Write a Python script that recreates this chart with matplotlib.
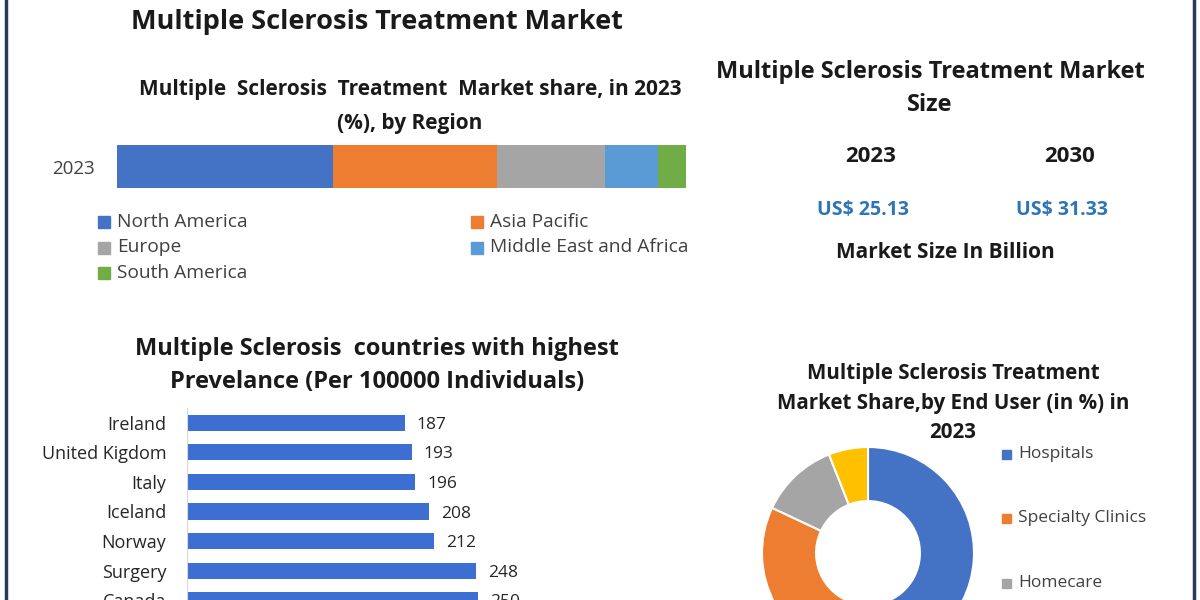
import numpy as np
import matplotlib.pyplot as plt

plt.rcParams['font.family'] = ['Open Sans', 'DejaVu Sans']

# region share, 2023 (%)
regions = ['North America', 'Asia Pacific', 'Europe', 'Middle East and Africa', 'South America']
region_share = [38.0, 28.7, 19.1, 9.3, 4.9]
region_colors = ['#4472c4', '#ed7d31', '#a5a5a5', '#5b9bd5', '#70ad47']

# market size
size_years = ['2023', '2030']
size_values = [25.13, 31.33]

# prevalence per 100000
countries = ['Ireland', 'United Kigdom', 'Italy', 'Iceland', 'Norway', 'Surgery', 'Canada']
prevalence = [187, 193, 196, 208, 212, 248, 250]

# end user share (%)
end_users = ['Hospitals', 'Specialty Clinics', 'Homecare', 'Others']
end_share = [52, 30, 12, 6]
end_colors = ['#4472c4', '#ed7d31', '#a5a5a5', '#ffc000']

W, H = 1200, 600
fig = plt.figure(figsize=(12, 6), dpi=100)


def box(x0, y0, x1, y1):
    # pixel box (top-left origin) -> figure fraction
    return [x0 / W, 1 - y1 / H, (x1 - x0) / W, (y1 - y0) / H]


def txt(x, y, s, size, **kw):
    kw.setdefault('ha', 'center')
    kw.setdefault('va', 'center')
    kw.setdefault('color', '#1a1a1a')
    fig.text(x / W, 1 - y / H, s, fontsize=size, **kw)


def square(x, y, side, col):
    fig.add_artist(plt.Rectangle((x / W, 1 - (y + side / 2) / H), side / W, side / H,
                                 color=col, transform=fig.transFigure))


# frame lines
for xl in (6, 1194):
    fig.add_artist(plt.Line2D([xl / W, xl / W], [0, 1], color='#2c3a5a', lw=2.5))

# --- top left: stacked bar ---
txt(377, 22, 'Multiple Sclerosis Treatment Market', 19.5, weight='bold')
txt(410, 90, 'Multiple  Sclerosis  Treatment  Market share, in 2023', 15, weight='bold')
txt(410, 123, '(%), by Region', 15, weight='bold')

ax1 = fig.add_axes(box(117, 145, 686, 188))
left = 0
for name, val, col in zip(regions, region_share, region_colors):
    ax1.barh(0, val, left=left, height=1, color=col, label=name)
    left += val
ax1.set_xlim(0, sum(region_share))
ax1.set_ylim(-0.5, 0.5)
ax1.set_yticks([0], ['2023'])
ax1.set_xticks([])
ax1.tick_params(axis='y', length=0, pad=16, labelsize=13.5, labelcolor='#404040')
for s in ax1.spines.values():
    s.set_visible(False)

# legend laid out row by row, two columns
leg_pos = [(98, 222), (471, 222), (98, 247.5), (471, 247.5), (98, 273)]
for (lx, ly), name, col in zip(leg_pos, regions, region_colors):
    square(lx, ly, 12, col)
    txt(lx + 19, ly, name, 13.8, ha='left', color='#404040')

# --- top right: market size ---
txt(930, 72, 'Multiple Sclerosis Treatment Market', 17, weight='bold')
txt(930, 105, 'Size', 17, weight='bold')
for xc, yr, v in zip([871, 1070], size_years, size_values):
    txt(xc, 157, yr, 16, weight='bold')
    txt(xc - 8, 210, f'US$ {v:.2f}', 14, weight='bold', color='#2e75b6')
txt(945, 253, 'Market Size In Billion', 15, weight='bold')

# --- bottom left: prevalence bars ---
txt(377, 349, 'Multiple Sclerosis  countries with highest', 17, weight='bold')
txt(377, 382, 'Prevelance (Per 100000 Individuals)', 17, weight='bold')

ax2 = fig.add_axes(box(186, 408, 686, 615))
y = np.arange(len(countries))
ax2.barh(y, prevalence, height=0.55, color='#3d6fd2')
ax2.set_xlim(-1, 500 / 1.164 - 1)
ax2.set_ylim(len(countries) - 0.5, -0.5)
ax2.set_yticks(y, countries)
ax2.set_xticks([])
ax2.tick_params(axis='y', length=0, pad=15, labelsize=13, labelcolor='#262626')
for s in ['top', 'right', 'bottom']:
    ax2.spines[s].set_visible(False)
ax2.spines['left'].set_color('#d9d9d9')
ax2.spines['left'].set_position(('data', 0))
for yi, v in zip(y, prevalence):
    ax2.annotate(str(v), (v, yi), xytext=(12, -2), textcoords='offset pixels',
                 va='center', ha='left', fontsize=12.5, color='#262626')

# --- bottom right: donut ---
txt(953, 373, 'Multiple Sclerosis Treatment', 14.8, weight='bold')
txt(953, 403, 'Market Share,by End User (in %) in', 14.8, weight='bold')
txt(953, 432, '2023', 14.8, weight='bold')

r = 106
ax3 = fig.add_axes(box(868 - r, 553 - r, 868 + r, 553 + r))
ax3.pie(end_share, colors=end_colors, startangle=90, counterclock=False,
        wedgeprops=dict(width=0.51, edgecolor='white', linewidth=1.5), radius=1)
ax3.set_xlim(-1, 1)
ax3.set_ylim(-1, 1)
ax3.set_aspect('equal')
ax3.axis('off')

for i, (name, col) in enumerate(zip(end_users, end_colors)):
    yy = 454 + 64.5 * i
    square(1002, yy, 9, col)
    txt(1018, yy, name, 12.5, ha='left', color='#404040')

fig.savefig('out.png', dpi=100, facecolor='white')
